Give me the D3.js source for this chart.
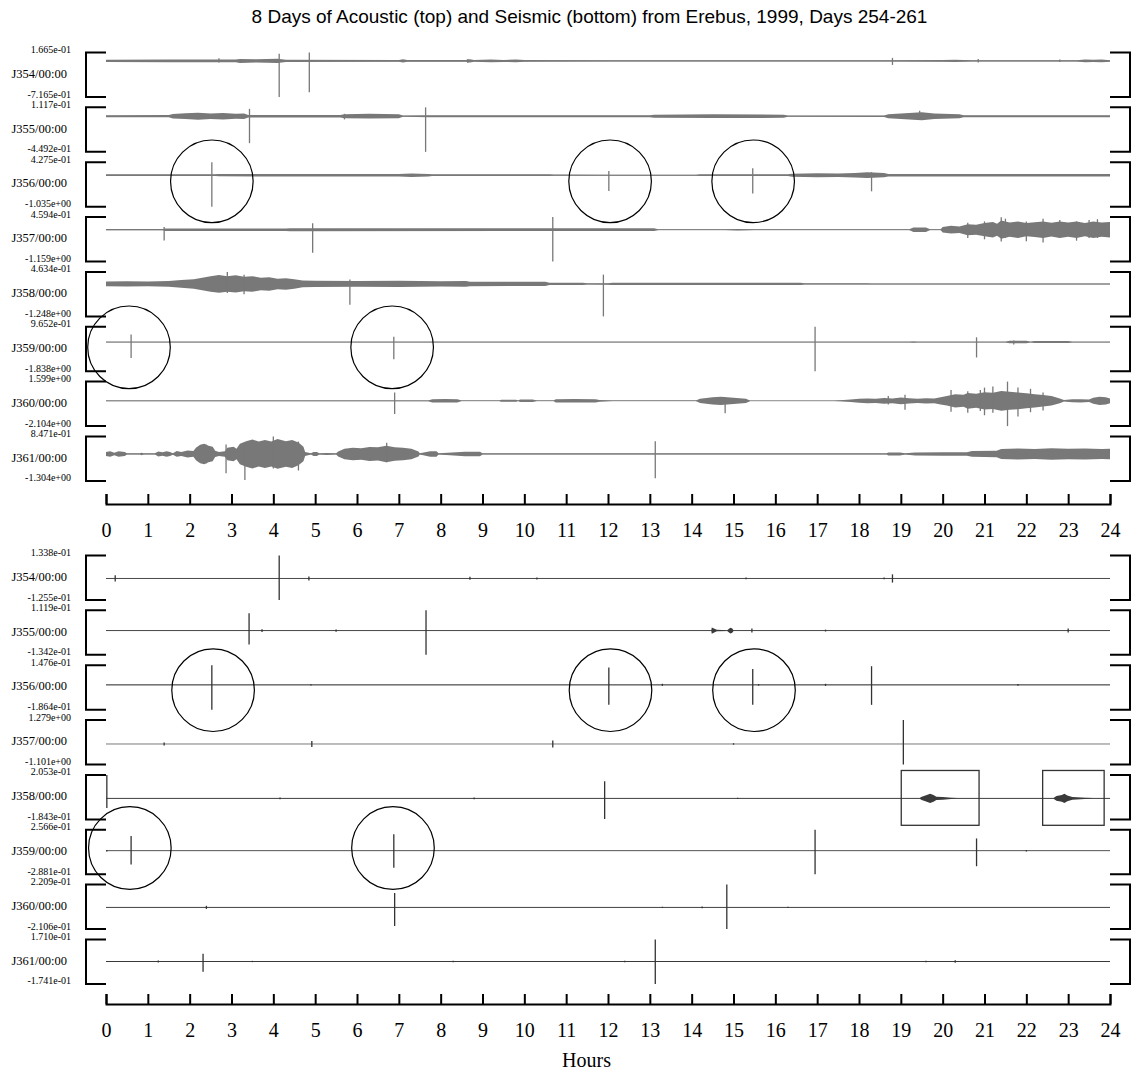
<!DOCTYPE html>
<html>
<head>
<meta charset="utf-8">
<script src="https://cdn.jsdelivr.net/npm/d3@7"></script>
<style>
  html, body { margin: 0; padding: 0; background: #fff; }
  svg { display: block; }
  .title { font-family: "Liberation Sans", Arial, sans-serif; font-size: 19px; }
  .serif { font-family: "Liberation Serif", "Times New Roman", serif; }
  .axis path, .axis line { stroke: #000; stroke-width: 2; }
  .axis text { font-family: "Liberation Serif", serif; font-size: 20px; fill: #000; }
</style>
</head>
<body>
<svg id="chart" width="1135" height="1078"></svg>
<script>
/* ── Data ─────────────────────────────────────────────────────────────────── */

const HOUR_TICKS = [0, 1, 2, 3, 4, 5, 6, 7, 8, 9, 10, 11, 12, 13, 14, 15, 16, 17, 18, 19, 20, 21, 22, 23, 24];

const DAYS = ["J354/00:00", "J355/00:00", "J356/00:00", "J357/00:00",
              "J358/00:00", "J359/00:00", "J360/00:00", "J361/00:00"];

const ACOUSTIC_MAX = [0.1665, 0.1117, 0.4275, 0.4594, 0.4634, 0.9652, 1.599, 0.8471];
const ACOUSTIC_MIN = [-0.7165, -0.4492, -1.035, -1.159, -1.248, -1.838, -2.104, -1.304];

const SEISMIC_MAX = [0.1338, 0.1119, 0.1476, 1.279, 0.2053, 0.2566, 0.2209, 0.1710];
const SEISMIC_MIN = [-0.1255, -0.1342, -0.1864, -1.101, -0.1843, -0.2881, -0.2106, -0.1741];

// envelope: [hour, half amplitude]
const ACOUSTIC_ENV = [
  [[0,0.022],[1.5,0.026],[3.1,0.026],[3.2,0.04],[3.6,0.032],[4.1,0.042],[4.3,0.022],[7.0,0.018],[7.1,0.032],
   [7.2,0.018],[8.6,0.018],[8.7,0.032],[8.8,0.018],[9.2,0.028],[9.5,0.02],[9.8,0.028],[10,0.016],[12,0.014],
   [18.5,0.013],[20,0.018],[20.3,0.024],[20.5,0.018],[20.7,0.013],[23.2,0.014],[23.4,0.028],[23.6,0.022],
   [23.8,0.028],[24,0.015]],
  [[0,0.013],[1.5,0.014],[1.6,0.028],[1.9,0.036],[2.2,0.045],[2.5,0.034],[2.8,0.04],[3.1,0.032],[3.3,0.035],
   [3.4,0.015],[5.6,0.015],[5.7,0.025],[6.3,0.03],[7.0,0.025],[7.1,0.008],[7.7,0.012],[13,0.012],[13.1,0.02],
   [14.5,0.024],[16.2,0.02],[16.3,0.008],[18.6,0.009],[18.7,0.025],[19.2,0.04],[19.5,0.05],[19.8,0.035],
   [20.4,0.025],[20.5,0.012],[24,0.012]],
  [[0,0.028],[2.6,0.028],[2.7,0.038],[7.0,0.04],[7.3,0.06],[7.7,0.04],[7.8,0.03],[10.6,0.03],
   [10.7,0.02],[12,0.018],[12.1,0.014],[14.1,0.014],[14.2,0.028],[16.3,0.03],[16.4,0.05],[17.0,0.065],
   [17.5,0.055],[17.9,0.075],[18.2,0.095],[18.6,0.07],[18.7,0.04],[24,0.04]],
  [[0,0.022],[1.37,0.022],[1.4,0.045],[4.3,0.045],[4.4,0.055],[13.1,0.05],[13.2,0.016],[14.8,0.016],
   [15.1,0.028],[15.5,0.016],[19.2,0.016],[19.3,0.08],[19.6,0.08],[19.7,0.014],[19.95,0.014],[20.0,0.1],
   [20.2,0.14],[20.4,0.12],[20.6,0.2],[20.8,0.18],[21.0,0.24],[21.2,0.28],[21.3,0.22],[21.4,0.33],[21.6,0.26],
   [21.8,0.3],[22.0,0.24],[22.2,0.27],[22.4,0.3],[22.6,0.25],[22.8,0.3],[23.0,0.26],[23.2,0.3],[23.4,0.24],
   [23.6,0.3],[23.8,0.26],[24,0.28]],
  [[0,0.09],[0.5,0.1],[1.0,0.09],[1.5,0.11],[1.8,0.15],[2.1,0.18],[2.3,0.24],[2.5,0.3],[2.7,0.34],[2.9,0.3],
   [3.1,0.33],[3.3,0.28],[3.5,0.3],[3.7,0.24],[3.9,0.26],[4.1,0.2],[4.3,0.22],[4.5,0.18],[4.7,0.13],[5.0,0.12],
   [6.0,0.11],[7.0,0.12],[8.0,0.1],[8.6,0.11],[8.7,0.085],[10.5,0.08],[10.6,0.045],[11.4,0.045],
   [11.5,0.024],[12,0.028],[12.1,0.045],[16.6,0.045],[16.7,0.024],[18.2,0.024],[18.3,0.018],[24,0.018]],
  [[0,0.02],[19.2,0.02],[19.3,0.04],[19.4,0.02],[21.5,0.02],[21.6,0.08],[22.0,0.08],[22.1,0.02],
   [22.2,0.06],[23.0,0.06],[23.1,0.02],[24,0.02]],
  [[0,0.026],[7.7,0.026],[7.8,0.13],[8.1,0.15],[8.4,0.13],[8.5,0.02],[9.4,0.02],[9.45,0.08],[9.8,0.08],
   [9.85,0.02],[9.9,0.1],[10.2,0.1],[10.3,0.02],[10.7,0.02],[10.75,0.13],[11.2,0.15],[11.7,0.13],[11.8,0.07],
   [12.1,0.02],[14.1,0.02],[14.2,0.18],[14.5,0.3],[14.7,0.34],[15.0,0.26],[15.3,0.18],[15.4,0.014],[17.4,0.014],
   [17.55,0.04],[17.8,0.1],[18.0,0.17],[18.2,0.2],[18.4,0.18],[18.6,0.24],[18.8,0.2],[19.0,0.28],[19.2,0.22],
   [19.4,0.18],[19.6,0.22],[19.8,0.2],[19.95,0.3],[20.1,0.4],[20.3,0.55],[20.5,0.5],[20.6,0.65],[20.8,0.58],
   [21.0,0.72],[21.2,0.68],[21.4,0.82],[21.6,0.75],[21.8,0.7],[22.0,0.62],[22.2,0.55],[22.4,0.48],[22.6,0.4],
   [22.8,0.2],[22.9,0.06],[23.1,0.12],[23.3,0.14],[23.5,0.1],[23.6,0.25],[23.75,0.34],[23.9,0.3],[24,0.2]],
  [[0,0.1],[0.1,0.13],[0.2,0.06],[0.3,0.13],[0.45,0.1],[0.5,0.03],[0.81,0.03],[0.85,0.06],[0.9,0.03],
   [1.17,0.03],[1.25,0.12],[1.35,0.08],[1.45,0.13],[1.53,0.1],[1.6,0.04],[1.69,0.14],[1.8,0.1],[1.95,0.17],
   [2.09,0.14],[2.15,0.3],[2.25,0.45],[2.35,0.5],[2.45,0.4],[2.55,0.35],[2.61,0.15],[2.7,0.1],[2.84,0.13],
   [2.9,0.3],[3.05,0.35],[3.12,0.25],[3.2,0.5],[3.35,0.62],[3.5,0.7],[3.65,0.6],[3.8,0.68],[3.95,0.6],
   [4.1,0.72],[4.3,0.62],[4.45,0.68],[4.6,0.55],[4.72,0.35],[4.76,0.1],[4.9,0.03],[4.96,0.1],[5.04,0.1],
   [5.1,0.03],[5.27,0.05],[5.5,0.03],[5.55,0.12],[5.7,0.25],[5.9,0.3],[6.1,0.28],[6.3,0.34],[6.5,0.32],
   [6.7,0.4],[6.9,0.33],[7.1,0.3],[7.3,0.25],[7.47,0.12],[7.5,0.03],[7.75,0.13],[7.9,0.13],[7.95,0.03],
   [8.58,0.11],[8.94,0.11],[9.0,0.03],[18.66,0.03],[18.7,0.07],[18.98,0.07],[19.1,0.03],[19.34,0.07],
   [20.0,0.08],[20.58,0.08],[20.7,0.14],[21.29,0.16],[21.4,0.24],[21.8,0.27],[22.2,0.24],[22.6,0.28],
   [23.0,0.25],[23.4,0.27],[23.8,0.24],[24,0.25]]
];

// spikes: [hour, high, low]
const ACOUSTIC_SPIKES = [
  [[2.7,0.05,-0.03],[4.14,0.14,-0.7165],[4.86,0.1665,-0.62],[8.65,0.04,-0.04],[18.8,0.06,-0.08],[20.85,0.04,-0.03],[22.8,0.03,-0.02]],
  [[3.43,0.093,-0.34],[5.7,0.03,-0.04],[7.64,0.1117,-0.4492],[19.45,0.07,-0.03]],
  [[2.53,0.4275,-1.035],[12.02,0.14,-0.52],[15.46,0.23,-0.6],[18.3,0.1,-0.53]],
  [[1.39,0.1,-0.39],[4.94,0.23,-0.84],[10.68,0.4594,-1.159],[20.6,0.25,-0.3],[21.0,0.3,-0.35],[21.4,0.45,-0.43],
   [21.5,0.4,-0.3],[22.0,0.3,-0.42],[22.4,0.4,-0.47],[22.8,0.35,-0.3],[23.2,0.3,-0.4],[23.5,0.35,-0.3],[23.7,0.38,-0.3]],
  [[2.9,0.4634,-0.35],[3.3,0.35,-0.4],[5.83,0.17,-0.8],[11.89,0.36,-1.248]],
  [[0.6,0.47,-1.0],[6.88,0.34,-1.08],[16.95,0.9652,-1.838],[20.81,0.3,-0.97],[21.7,0.1,-0.15]],
  [[6.9,0.7,-1.1],[14.8,0.3,-1.04],[18.7,0.4,-0.3],[19.1,0.5,-0.75],[20.2,0.9,-0.9],[20.6,0.8,-1.0],[20.9,0.9,-0.85],
   [21.0,1.1,-1.2],[21.2,1.2,-1.0],[21.55,1.599,-2.104],[21.8,1.1,-1.3],[22.1,1.0,-0.95],[22.4,0.7,-0.8]],
  [[2.4,0.45,-0.45],[2.87,0.46,-0.93],[3.32,0.5,-1.26],[4.0,0.8471,-0.7],[4.6,0.6,-0.8],[6.71,0.54,-0.4],[13.13,0.62,-1.17]]
];

const SEISMIC_ENV = [
  [[0,0.002],[24,0.002]],
  [[0,0.002],[14.47,0.002],[14.48,0.017],[14.6,0.004],[14.85,0.002],[14.9,0.012],[14.93,0.016],[14.97,0.012],[15.0,0.002],[24,0.002]],
  [[0,0.003],[24,0.003]],
  [[0,0.01],[24,0.01]],
  [[0,0.003],[19.45,0.003],[19.5,0.015],[19.62,0.03],[19.7,0.04],[19.78,0.03],[19.85,0.015],[20.0,0.012],[20.2,0.006],
   [20.35,0.003],[22.65,0.003],[22.72,0.02],[22.85,0.03],[22.91,0.04],[22.98,0.025],[23.1,0.012],[23.4,0.006],[23.6,0.003],[24,0.003]],
  [[0,0.004],[24,0.004]],
  [[0,0.003],[24,0.003]],
  [[0,0.003],[24,0.003]]
];

const SEISMIC_SPIKES = [
  [[0.22,0.018,-0.018],[4.14,0.1338,-0.1255],[4.85,0.012,-0.012],[8.7,0.01,-0.008],[10.3,0.006,-0.006],[15.3,0.005,-0.005],[18.6,0.005,-0.005],[18.8,0.024,-0.024]],
  [[3.42,0.096,-0.077],[3.73,0.008,-0.008],[5.5,0.006,-0.006],[7.65,0.1119,-0.1342],[15.44,0.011,-0.011],[17.2,0.005,-0.005],[23.0,0.011,-0.011]],
  [[2.53,0.1476,-0.1864],[4.9,0.005,-0.005],[12.02,0.13,-0.15],[13.3,0.008,-0.008],[15.46,0.12,-0.15],[15.6,0.006,-0.006],[17.2,0.008,-0.008],[18.3,0.14,-0.15],[21.8,0.006,-0.006]],
  [[1.39,0.08,-0.08],[4.92,0.16,-0.16],[10.68,0.19,-0.19],[15.0,0.04,-0.04],[19.06,1.279,-1.101]],
  [[0.02,0.2053,-0.085],[4.16,0.008,-0.008],[8.8,0.008,-0.008],[11.92,0.15,-0.18],[15.1,0.006,-0.006]],
  [[0.02,0.01,-0.01],[0.6,0.18,-0.17],[6.88,0.2,-0.21],[16.95,0.2566,-0.2881],[20.81,0.15,-0.19],[22.0,0.01,-0.01]],
  [[2.4,0.015,-0.015],[6.9,0.14,-0.18],[13.3,0.006,-0.006],[14.25,0.008,-0.008],[14.84,0.2209,-0.2106],[16.3,0.005,-0.005]],
  [[1.25,0.008,-0.008],[2.32,0.06,-0.08],[3.5,0.005,-0.005],[8.3,0.006,-0.006],[12.4,0.005,-0.005],[13.13,0.171,-0.1741],[19.6,0.005,-0.005],[20.3,0.01,-0.01]]
];

// hand-drawn annotations: [day index, hour, centre level]
const ACOUSTIC_CIRCLES = [[2, 2.53, -0.2], [2, 12.05, -0.2], [2, 15.47, -0.2], [5, 0.55, -0.33], [5, 6.84, -0.33]];
const SEISMIC_CIRCLES  = [[2, 2.56, -0.04], [2, 12.06, -0.04], [2, 15.49, -0.04], [5, 0.57, 0.033], [5, 6.86, 0.033]];
// boxes: [day index, hour from, hour to, high, low]
const SEISMIC_BOXES = [[4, 19.01, 20.87, 0.244, -0.236], [4, 22.39, 23.86, 0.244, -0.236]];

/* ── Layout ───────────────────────────────────────────────────────────────── */

const svg = d3.select("#chart");
const x = d3.scaleLinear().domain([0, 24]).range([106, 1110]);

const ROW_STEP = 54.85;
const ROW_H = 44.5;
const CIRCLE_R = 41.3;

const sci = (v) => {
  const [m, e] = v.toExponential(3).split("e");
  const n = +e;
  return m + "e" + (n < 0 ? "-" : "+") + String(Math.abs(n)).padStart(2, "0");
};

svg.append("text")
  .attr("class", "title")
  .attr("x", 589.5)
  .attr("y", 23)
  .attr("text-anchor", "middle")
  .text("8 Days of Acoustic (top) and Seismic (bottom) from Erebus, 1999, Days 254-261");

/* ── Panels ───────────────────────────────────────────────────────────────── */

function drawPanel(cfg) {
  const g = svg.append("g");
  const rowY = [];

  DAYS.forEach((day, i) => {
    const top = cfg.top + i * ROW_STEP;
    const bottom = top + ROW_H;
    const y = d3.scaleLinear().domain([cfg.min[i], cfg.max[i]]).range([bottom, top]);
    rowY.push(y);

    // brackets
    g.append("path")
      .attr("d", `M106,${top}H86V${bottom}H106`)
      .attr("fill", "none").attr("stroke", "#000").attr("stroke-width", 2);
    g.append("path")
      .attr("d", `M1110,${top}H1130V${bottom}H1110`)
      .attr("fill", "none").attr("stroke", "#000").attr("stroke-width", 2);

    // labels
    g.append("text").attr("class", "serif")
      .attr("x", 71).attr("y", top + 0.5)
      .attr("text-anchor", "end").attr("font-size", 10)
      .text(sci(cfg.max[i]));
    g.append("text").attr("class", "serif")
      .attr("x", 71).attr("y", bottom + 0.5)
      .attr("text-anchor", "end").attr("font-size", 10)
      .text(sci(cfg.min[i]));
    g.append("text").attr("class", "serif")
      .attr("x", 67).attr("y", (top + bottom) / 2 + 3)
      .attr("text-anchor", "end").attr("font-size", 12.5)
      .text(day);

    // zero line
    g.append("line")
      .attr("x1", x(0)).attr("x2", x(24))
      .attr("y1", y(0)).attr("y2", y(0))
      .attr("stroke", cfg.lineColor[i]).attr("stroke-width", cfg.lineWidth);

    // envelope
    const area = d3.area()
      .x((d) => x(d[0]))
      .y0((d) => y(-d[1]))
      .y1((d) => y(d[1]));
    g.append("path")
      .attr("d", area(cfg.env[i]))
      .attr("fill", cfg.fill);

    // spikes
    g.selectAll(null)
      .data(cfg.spikes[i])
      .enter()
      .append("line")
      .attr("x1", (d) => x(d[0])).attr("x2", (d) => x(d[0]))
      .attr("y1", (d) => y(d[1])).attr("y2", (d) => y(d[2]))
      .attr("stroke", cfg.spikeColor).attr("stroke-width", 1.3);
  });

  // annotations
  cfg.circles.forEach(([row, h, lvl]) => {
    g.append("circle")
      .attr("cx", x(h)).attr("cy", rowY[row](lvl)).attr("r", CIRCLE_R)
      .attr("fill", "none").attr("stroke", "#000").attr("stroke-width", 1.2);
  });
  cfg.boxes.forEach(([row, h0, h1, hi, lo]) => {
    g.append("rect")
      .attr("x", x(h0)).attr("y", rowY[row](hi))
      .attr("width", x(h1) - x(h0)).attr("height", rowY[row](lo) - rowY[row](hi))
      .attr("fill", "none").attr("stroke", "#333").attr("stroke-width", 1.3);
  });

  // hours axis
  svg.append("g")
    .attr("class", "axis")
    .attr("transform", `translate(0,${cfg.axisY})`)
    .call(d3.axisBottom(x).tickValues(HOUR_TICKS).tickFormat(d3.format("d"))
      .tickSizeInner(-10).tickSizeOuter(-10).tickPadding(19))
    .call((a) => a.select(".domain").attr("fill", "none"));
}

drawPanel({
  top: 52.5, axisY: 504,
  max: ACOUSTIC_MAX, min: ACOUSTIC_MIN,
  env: ACOUSTIC_ENV, spikes: ACOUSTIC_SPIKES,
  circles: ACOUSTIC_CIRCLES, boxes: [],
  fill: "#787878", spikeColor: "#787878",
  lineColor: DAYS.map(() => "#949494"), lineWidth: 1.1,
});

drawPanel({
  top: 555.5, axisY: 1004,
  max: SEISMIC_MAX, min: SEISMIC_MIN,
  env: SEISMIC_ENV, spikes: SEISMIC_SPIKES,
  circles: SEISMIC_CIRCLES, boxes: SEISMIC_BOXES,
  fill: "#3a3a3a", spikeColor: "#333",
  lineColor: ["#666", "#666", "#666", "#c8c8c8", "#666", "#666", "#666", "#666"], lineWidth: 0.8,
});

svg.append("text").attr("class", "serif")
  .attr("x", 586.5).attr("y", 1067)
  .attr("text-anchor", "middle").attr("font-size", 20)
  .text("Hours");
</script>
</body>
</html>
